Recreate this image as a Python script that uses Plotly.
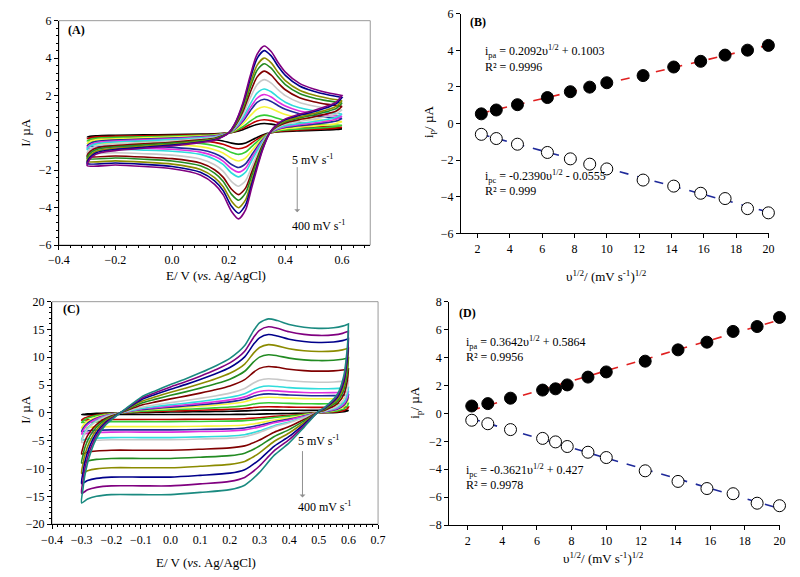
import plotly.graph_objects as go

# ---------------- Panel A: CV template (400 mV/s curve) ----------------
A_fwd_E = [-0.30, -0.29, -0.27, -0.25, -0.20, -0.10, 0.00, 0.10, 0.15, 0.18, 0.20, 0.22, 0.25, 0.275,
           0.30, 0.325, 0.35, 0.375, 0.40, 0.45, 0.50, 0.55, 0.60]
A_fwd_I = [-1.75, -1.40, -1.15, -1.05, -0.95, -0.82, -0.70, -0.52, -0.40, -0.20, 0.00, 0.45, 1.60, 3.00,
           4.20, 4.65, 4.35, 3.75, 3.25, 2.65, 2.35, 2.15, 2.00]
A_rev_E = [0.60, 0.58, 0.55, 0.50, 0.45, 0.40, 0.37, 0.345, 0.32, 0.30, 0.28, 0.26, 0.235, 0.21, 0.18,
           0.15, 0.10, 0.00, -0.10, -0.20, -0.30]
A_rev_I = [2.00, 1.65, 1.45, 1.20, 1.00, 0.75, 0.45, 0.00, -0.90, -1.90, -3.00, -4.10, -4.60, -4.20, -3.30,
           -2.75, -2.25, -1.92, -1.80, -1.72, -1.75]
# peak currents of each curve in panel A (5 ... 400 mV/s)
A_pa = [0.50, 0.70, 0.95, 1.40, 1.80, 2.05, 2.35, 2.85, 3.30, 3.70, 4.00, 4.40, 4.65]
A_pc = [-0.60, -0.85, -1.15, -1.50, -1.85, -2.10, -2.35, -2.85, -3.30, -3.60, -4.00, -4.30, -4.60]
A_colors = ["#000000", "#c00000", "#33cc33", "#f5f53a", "#1f2a9a", "#e030e0", "#30dcdc", "#c8c8c8",
            "#800000", "#228b22", "#8b8b00", "#00008b", "#800080"]

# ---------------- Panel C: CV template (400 mV/s curve) ----------------
C_fwd_E = [-0.30, -0.295, -0.29, -0.28, -0.27, -0.25, -0.22, -0.184, -0.15, -0.10, -0.05, 0.00, 0.05, 0.10,
           0.15, 0.20, 0.25, 0.28, 0.30, 0.33, 0.36, 0.40, 0.45, 0.50, 0.55, 0.58, 0.60]
C_fwd_I = [-16.2, -13.5, -11.5, -9.0, -7.2, -4.6, -2.2, -0.6, 0.8, 2.8, 4.0, 5.1, 6.1, 7.2,
           8.4, 9.8, 12.1, 14.8, 16.2, 16.9, 16.6, 15.9, 15.4, 15.2, 15.3, 15.6, 16.0]
C_rev_E = [0.60, 0.598, 0.595, 0.585, 0.562, 0.52, 0.50, 0.45, 0.40, 0.35, 0.30, 0.27, 0.25, 0.20, 0.10,
           0.00, -0.10, -0.20, -0.25, -0.28, -0.30]
C_rev_I = [16.0, 13.0, 11.0, 6.8, 3.3, 1.0, 0.3, -2.6, -5.4, -7.6, -10.7, -12.2, -13.0, -13.8, -14.3,
           -14.7, -14.7, -14.7, -15.0, -15.5, -16.2]
C_pa = [0.5, 1.1, 1.8, 2.8, 3.4, 4.0, 4.8, 6.1, 8.3, 10.4, 12.2, 14.0, 15.4, 16.8]
C_pc = [-0.3, -1.2, -1.6, -2.5, -3.1, -3.5, -4.5, -4.9, -6.8, -8.3, -10.0, -11.7, -13.3, -14.9]
C_colors = A_colors + ["#1a8a80"]

# ---------------- Panel B ----------------
B_x = [2.236, 3.162, 4.472, 6.325, 7.746, 8.944, 10.0, 12.247, 14.142, 15.811, 17.321, 18.708, 20.0]
B_ipa = [0.53, 0.74, 1.03, 1.42, 1.74, 1.99, 2.23, 2.62, 3.09, 3.40, 3.74, 4.01, 4.27]
B_ipa_err = [0.08, 0.12, 0.08, 0.1, 0.08, 0.08, 0.22, 0.22, 0.1, 0.18, 0.1, 0.1, 0.15]
B_ipc = [-0.59, -0.82, -1.13, -1.58, -1.93, -2.22, -2.48, -3.09, -3.42, -3.81, -4.10, -4.65, -4.88]
B_ipc_err = [0.05, 0.08, 0.2, 0.08, 0.05, 0.08, 0.08, 0.15, 0.08, 0.08, 0.08, 0.2, 0.15]
B_fit = {"pa": (0.2092, 0.1003), "pc": (-0.2390, -0.0555)}

# ---------------- Panel D ----------------
D_x = [2.236, 3.162, 4.472, 6.325, 7.071, 7.746, 8.944, 10.0, 12.247, 14.142, 15.811, 17.321, 18.708, 20.0]
D_ipa = [0.53, 0.70, 1.09, 1.67, 1.76, 2.04, 2.60, 2.97, 3.74, 4.55, 5.10, 5.87, 6.22, 6.87]
D_ipc = [-0.49, -0.74, -1.16, -1.79, -2.04, -2.37, -2.78, -3.16, -4.11, -4.87, -5.38, -5.75, -6.43, -6.61]
D_fit = {"pa": (0.3642, -0.5864), "pc": (-0.3621, 0.427)}

FONT = "Liberation Serif"
fig = go.Figure()


def scaled(vals, pa, pc, pa_max, pc_max):
    return [v * pa / pa_max if v >= 0 else v * pc / pc_max for v in vals]


def add_cv(E_f, I_f, E_r, I_r, pas, pcs, colors, xa, ya):
    for pa, pc, col in zip(pas, pcs, colors):
        xs = E_f + E_r
        ys = scaled(I_f, pa, pc, pas[-1], pcs[-1]) + scaled(I_r, pa, pc, pas[-1], pcs[-1])
        fig.add_trace(go.Scatter(x=xs, y=ys, mode="lines", xaxis=xa, yaxis=ya,
                                 line=dict(color=col, width=1.6, shape="spline", smoothing=0.7),
                                 showlegend=False, hoverinfo="skip"))


add_cv(A_fwd_E, A_fwd_I, A_rev_E, A_rev_I, A_pa, A_pc, A_colors, "x", "y")
add_cv(C_fwd_E, C_fwd_I, C_rev_E, C_rev_I, C_pa, C_pc, C_colors, "x3", "y3")


def add_rs(xv, ipa, ipc, fits, xa, ya, err_a=None, err_c=None):
    x0, x1 = 2.2, 20.0
    m, b = fits["pa"]
    fig.add_trace(go.Scatter(x=[x0, x1], y=[m * x0 + b, m * x1 + b], mode="lines", xaxis=xa, yaxis=ya,
                             line=dict(color="#e02020", width=1.6, dash="dash"), showlegend=False))
    m, b = fits["pc"]
    fig.add_trace(go.Scatter(x=[x0, x1], y=[m * x0 + b, m * x1 + b], mode="lines", xaxis=xa, yaxis=ya,
                             line=dict(color="#1f2a9a", width=1.6, dash="dash"), showlegend=False))
    fig.add_trace(go.Scatter(x=xv, y=ipa, mode="markers", xaxis=xa, yaxis=ya, cliponaxis=False,
                             marker=dict(color="black", size=12, line=dict(color="black", width=1)),
                             error_y=dict(type="data", array=err_a, color="black", thickness=1, width=3,
                                          visible=err_a is not None),
                             showlegend=False))
    fig.add_trace(go.Scatter(x=xv, y=ipc, mode="markers", xaxis=xa, yaxis=ya, cliponaxis=False,
                             marker=dict(color="white", size=12, line=dict(color="black", width=1)),
                             error_y=dict(type="data", array=err_c, color="black", thickness=1, width=3,
                                          visible=err_c is not None),
                             showlegend=False))


add_rs(B_x, B_ipa, B_ipc, B_fit, "x2", "y2", B_ipa_err, B_ipc_err)
add_rs(D_x, D_ipa, D_ipc, D_fit, "x4", "y4")

tickfont = dict(family=FONT, size=12, color="black")
common = dict(showgrid=False, zeroline=False, showline=True, linecolor="black", linewidth=1,
              ticks="outside", ticklen=4, tickcolor="black", tickfont=tickfont)

fig.update_layout(
    width=800, height=577, margin=dict(l=0, r=0, t=0, b=0),
    paper_bgcolor="white", plot_bgcolor="white", showlegend=False,
    font=dict(family=FONT, size=12, color="black"),
    xaxis=dict(domain=[0.0613, 0.46], anchor="y", range=[-0.4, 0.7], tick0=-0.4, dtick=0.2,
               tickformat=".1f", minor=dict(dtick=0.04, ticks="outside", ticklen=2, tickcolor="black"),
               **common),
    yaxis=dict(domain=[0.5771, 0.9757], anchor="x", range=[-6, 6], dtick=2,
               minor=dict(dtick=0.4, ticks="outside", ticklen=2, tickcolor="black"), **common),
    xaxis2=dict(domain=[0.576, 0.971], anchor="y2", range=[0.97, 20.06], tickvals=list(range(2, 21, 2)),
                **common),
    yaxis2=dict(domain=[0.598, 0.988], anchor="x2", range=[-6, 6], dtick=2, **common),
    xaxis3=dict(domain=[0.0525, 0.47], anchor="y3", range=[-0.4, 0.7], tick0=-0.4, dtick=0.1,
                tickformat=".1f", minor=dict(dtick=0.02, ticks="outside", ticklen=2, tickcolor="black"),
                **common),
    yaxis3=dict(domain=[0.0815, 0.4766], anchor="x3", range=[-20, 20], dtick=5,
                minor=dict(dtick=1, ticks="outside", ticklen=2, tickcolor="black"), **common),
    xaxis4=dict(domain=[0.561, 0.984], anchor="y4", range=[0.93, 20.0], tickvals=list(range(2, 21, 2)),
                **common),
    yaxis4=dict(domain=[0.0797, 0.4766], anchor="x4", range=[-8, 8], dtick=2, **common),
)

# gray frames for panels A and C
for xa, ya in (("x", "y"), ("x3", "y3")):
    fig.add_shape(type="rect", xref=f"{xa} domain", yref=f"{ya} domain", x0=0, x1=1, y0=0, y1=1,
                  line=dict(color="#9a9a9a", width=1), layer="below")

ann = []


def txt(x, y, s, xref, yref, size=12, xanchor="center", yanchor="middle", angle=0):
    ann.append(dict(x=x, y=y, text=s, xref=xref, yref=yref, showarrow=False, xanchor=xanchor,
                    yanchor=yanchor, textangle=angle, font=dict(family=FONT, size=size, color="black")))


# panel labels
txt(-0.375, 5.5, "<b>(A)</b>", "x", "y", xanchor="left")
txt(1.4, 5.55, "<b>(B)</b>", "x2", "y2", xanchor="left")
txt(-0.37, 18.6, "<b>(C)</b>", "x3", "y3", xanchor="left")
txt(1.4, 7.2, "<b>(D)</b>", "x4", "y4", xanchor="left")

# scan-rate labels and arrows
txt(0.415, -1.4, "5 mV s<sup>-1</sup>", "x", "y", xanchor="left")
txt(0.415, -4.95, "400 mV s<sup>-1</sup>", "x", "y", xanchor="left")
ann.append(dict(x=0.442, y=-4.25, ax=0.442, ay=-1.75, xref="x", yref="y", axref="x", ayref="y",
                showarrow=True, arrowhead=1, arrowsize=1, arrowwidth=1, arrowcolor="#909090", text=""))
txt(0.423, -5.0, "5 mV s<sup>-1</sup>", "x3", "y3", xanchor="left")
txt(0.423, -16.8, "400 mV s<sup>-1</sup>", "x3", "y3", xanchor="left")
ann.append(dict(x=0.445, y=-15.2, ax=0.445, ay=-6.6, xref="x3", yref="y3", axref="x3", ayref="y3",
                showarrow=True, arrowhead=1, arrowsize=1, arrowwidth=1, arrowcolor="#909090", text=""))

# regression equations
txt(2.34, 3.95, "i<sub>pa</sub> = 0.2092υ<sup>1/2</sup> + 0.1003", "x2", "y2", xanchor="left")
txt(2.34, 3.1, "R² = 0.9996", "x2", "y2", xanchor="left")
txt(2.34, -2.87, "i<sub>pc</sub> = -0.2390υ<sup>1/2</sup> - 0.0555", "x2", "y2", xanchor="left")
txt(2.34, -3.7, "R² = 0.999", "x2", "y2", xanchor="left")
txt(1.81, 5.1, "i<sub>pa</sub> = 0.3642υ<sup>1/2</sup> + 0.5864", "x4", "y4", xanchor="left")
txt(1.81, 4.06, "R² = 0.9956", "x4", "y4", xanchor="left")
txt(1.81, -4.06, "i<sub>pc</sub> = -0.3621υ<sup>1/2</sup> + 0.427", "x4", "y4", xanchor="left")
txt(1.81, -5.1, "R² = 0.9978", "x4", "y4", xanchor="left")

# axis titles
txt(0.2625, 0.5234, "E/ V (<i>vs.</i> Ag/AgCl)", "paper", "paper", size=13)
txt(0.019, 0.778, "I/ µA", "paper", "paper", size=13, angle=-90)
txt(0.7625, 0.5217, "υ<sup>1/2</sup>/ (mV s<sup>-1</sup>)<sup>1/2</sup>", "paper", "paper", size=13)
txt(0.535, 0.797, "i<sub>p</sub>/ µA", "paper", "paper", size=13, angle=-90)
txt(0.25, 0.0139, "E/ V (<i>vs.</i> Ag/AgCl)", "paper", "paper", size=13)
txt(0.019, 0.286, "I/ µA", "paper", "paper", size=13, angle=-90)
txt(0.759, 0.021, "υ<sup>1/2</sup>/ (mV s<sup>-1</sup>)<sup>1/2</sup>", "paper", "paper", size=13)
txt(0.518, 0.298, "i<sub>p</sub>/ µA", "paper", "paper", size=13, angle=-90)

fig.update_layout(annotations=ann)
fig.write_html("out.html", config={"displayModeBar": False},
               post_script="document.body.style.margin='0';document.body.style.overflow='hidden';")
